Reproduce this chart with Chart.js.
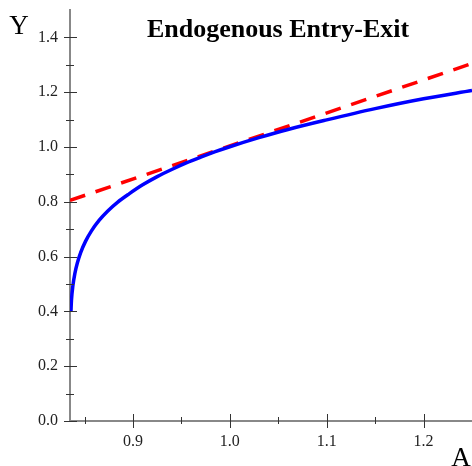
<!DOCTYPE html>
<html>
<head>
<meta charset="utf-8">
<script src="https://cdn.jsdelivr.net/npm/chart.js@4"></script>
<style>
  html, body { margin: 0; padding: 0; background: #fff; }
  #wrap { width: 472px; height: 466px; }
</style>
</head>
<body>
<div id="wrap"><canvas id="chart"></canvas></div>
<script>
// productivity A vs output Y
const curveA = [0.836, 0.8365, 0.838, 0.840, 0.8425, 0.846, 0.851, 0.857, 0.865, 0.874, 0.884, 0.896, 0.91, 0.925, 0.94, 0.955, 0.97, 0.985, 1.0, 1.03, 1.06, 1.1, 1.15, 1.2, 1.25];
const curveY = [0.40, 0.44, 0.494, 0.538, 0.5755, 0.6145, 0.6555, 0.693, 0.732, 0.7665, 0.798, 0.829, 0.862, 0.892, 0.918, 0.942, 0.963, 0.983, 1.001, 1.034, 1.064, 1.099, 1.14, 1.176, 1.206];

// tangent at A = 1 (dashed)
const tangentA = [0.835, 1.25];
const tangentY = [0.805, 1.305];

const xTicks = [0.85, 0.9, 0.95, 1.0, 1.05, 1.1, 1.15, 1.2, 1.25];
const xLabels = [0.9, 1.0, 1.1, 1.2];
const yTicks = [0.0, 0.1, 0.2, 0.3, 0.4, 0.5, 0.6, 0.7, 0.8, 0.9, 1.0, 1.1, 1.2, 1.3, 1.4];
const yLabels = [0.0, 0.2, 0.4, 0.6, 0.8, 1.0, 1.2, 1.4];

const isLabel = (list, v) => list.some(l => Math.abs(l - v) < 1e-6);

// crossing tick marks, major ones longer
const tickMarks = {
    id: 'tickMarks',
    afterDraw(chart) {
        const ctx = chart.ctx;
        const xs = chart.scales.x, ys = chart.scales.y;
        ctx.save();
        ctx.strokeStyle = '#333';
        ctx.lineWidth = 1;
        const y0 = ys.getPixelForValue(0);
        xs.ticks.forEach(t => {
            const px = Math.round(xs.getPixelForValue(t.value)) + 0.5;
            const big = isLabel(xLabels, t.value);
            ctx.beginPath();
            ctx.moveTo(px, y0 - (big ? 7 : 4));
            ctx.lineTo(px, y0 + (big ? 7 : 3));
            ctx.stroke();
        });
        const x0 = xs.left;
        ys.ticks.forEach(t => {
            const py = Math.round(ys.getPixelForValue(t.value)) + 0.5;
            const big = isLabel(yLabels, t.value);
            ctx.beginPath();
            ctx.moveTo(x0 - (big ? 6 : 4), py);
            ctx.lineTo(x0 + (big ? 7 : 4), py);
            ctx.stroke();
        });

        // title and axis letters
        ctx.fillStyle = '#000';
        ctx.textAlign = 'center';
        ctx.textBaseline = 'alphabetic';
        ctx.font = 'bold 26px "Liberation Serif", serif';
        ctx.fillText('Endogenous Entry-Exit', 278, 37);
        ctx.font = '27px "Liberation Serif", serif';
        ctx.fillText('Y', 19, 34);
        ctx.fillText('A', 461, 466);
        ctx.restore();
    }
};

const noPad = s => { s.paddingLeft = 0; s.paddingRight = 0; s.paddingTop = 0; s.paddingBottom = 0; };

new Chart(document.getElementById('chart'), {
    type: 'line',
    data: {
        datasets: [{
            data: curveA.map((a, i) => ({ x: a, y: curveY[i] })),
            borderColor: '#0000ff',
            borderWidth: 3.5,
            pointRadius: 0,
            cubicInterpolationMode: 'monotone',
            fill: false
        }, {
            data: tangentA.map((a, i) => ({ x: a, y: tangentY[i] })),
            borderColor: '#ff0000',
            borderWidth: 3.5,
            borderDash: [16, 11],
            pointRadius: 0,
            fill: false
        }]
    },
    options: {
        responsive: true,
        maintainAspectRatio: false,
        animation: false,
        layout: { padding: { top: 10, right: 0, left: 0, bottom: 0 } },
        plugins: { legend: { display: false }, title: { display: false }, tooltip: { enabled: false } },
        scales: {
            x: {
                type: 'linear',
                min: 0.835,
                max: 1.25,
                afterBuildTicks: s => { s.ticks = xTicks.map(v => ({ value: v })); },
                afterFit: s => { s.height = 45; noPad(s); },
                grid: { display: false, drawTicks: false },
                border: { display: true, color: '#888', width: 2 },
                ticks: {
                    autoSkip: false,
                    maxRotation: 0,
                    padding: 11,
                    color: '#222',
                    font: { family: '"Liberation Serif", serif', size: 16 },
                    callback: v => isLabel(xLabels, v) ? v.toFixed(1) : ''
                }
            },
            y: {
                min: 0,
                max: 1.5,
                afterBuildTicks: s => { s.ticks = yTicks.map(v => ({ value: v })); },
                afterFit: s => { s.width = 70; noPad(s); },
                grid: { display: false, drawTicks: false },
                border: { display: true, color: '#888', width: 2 },
                ticks: {
                    autoSkip: false,
                    padding: 12,
                    color: '#222',
                    font: { family: '"Liberation Serif", serif', size: 16 },
                    callback: v => isLabel(yLabels, v) ? v.toFixed(1) : ''
                }
            }
        }
    },
    plugins: [tickMarks]
});
</script>
</body>
</html>
